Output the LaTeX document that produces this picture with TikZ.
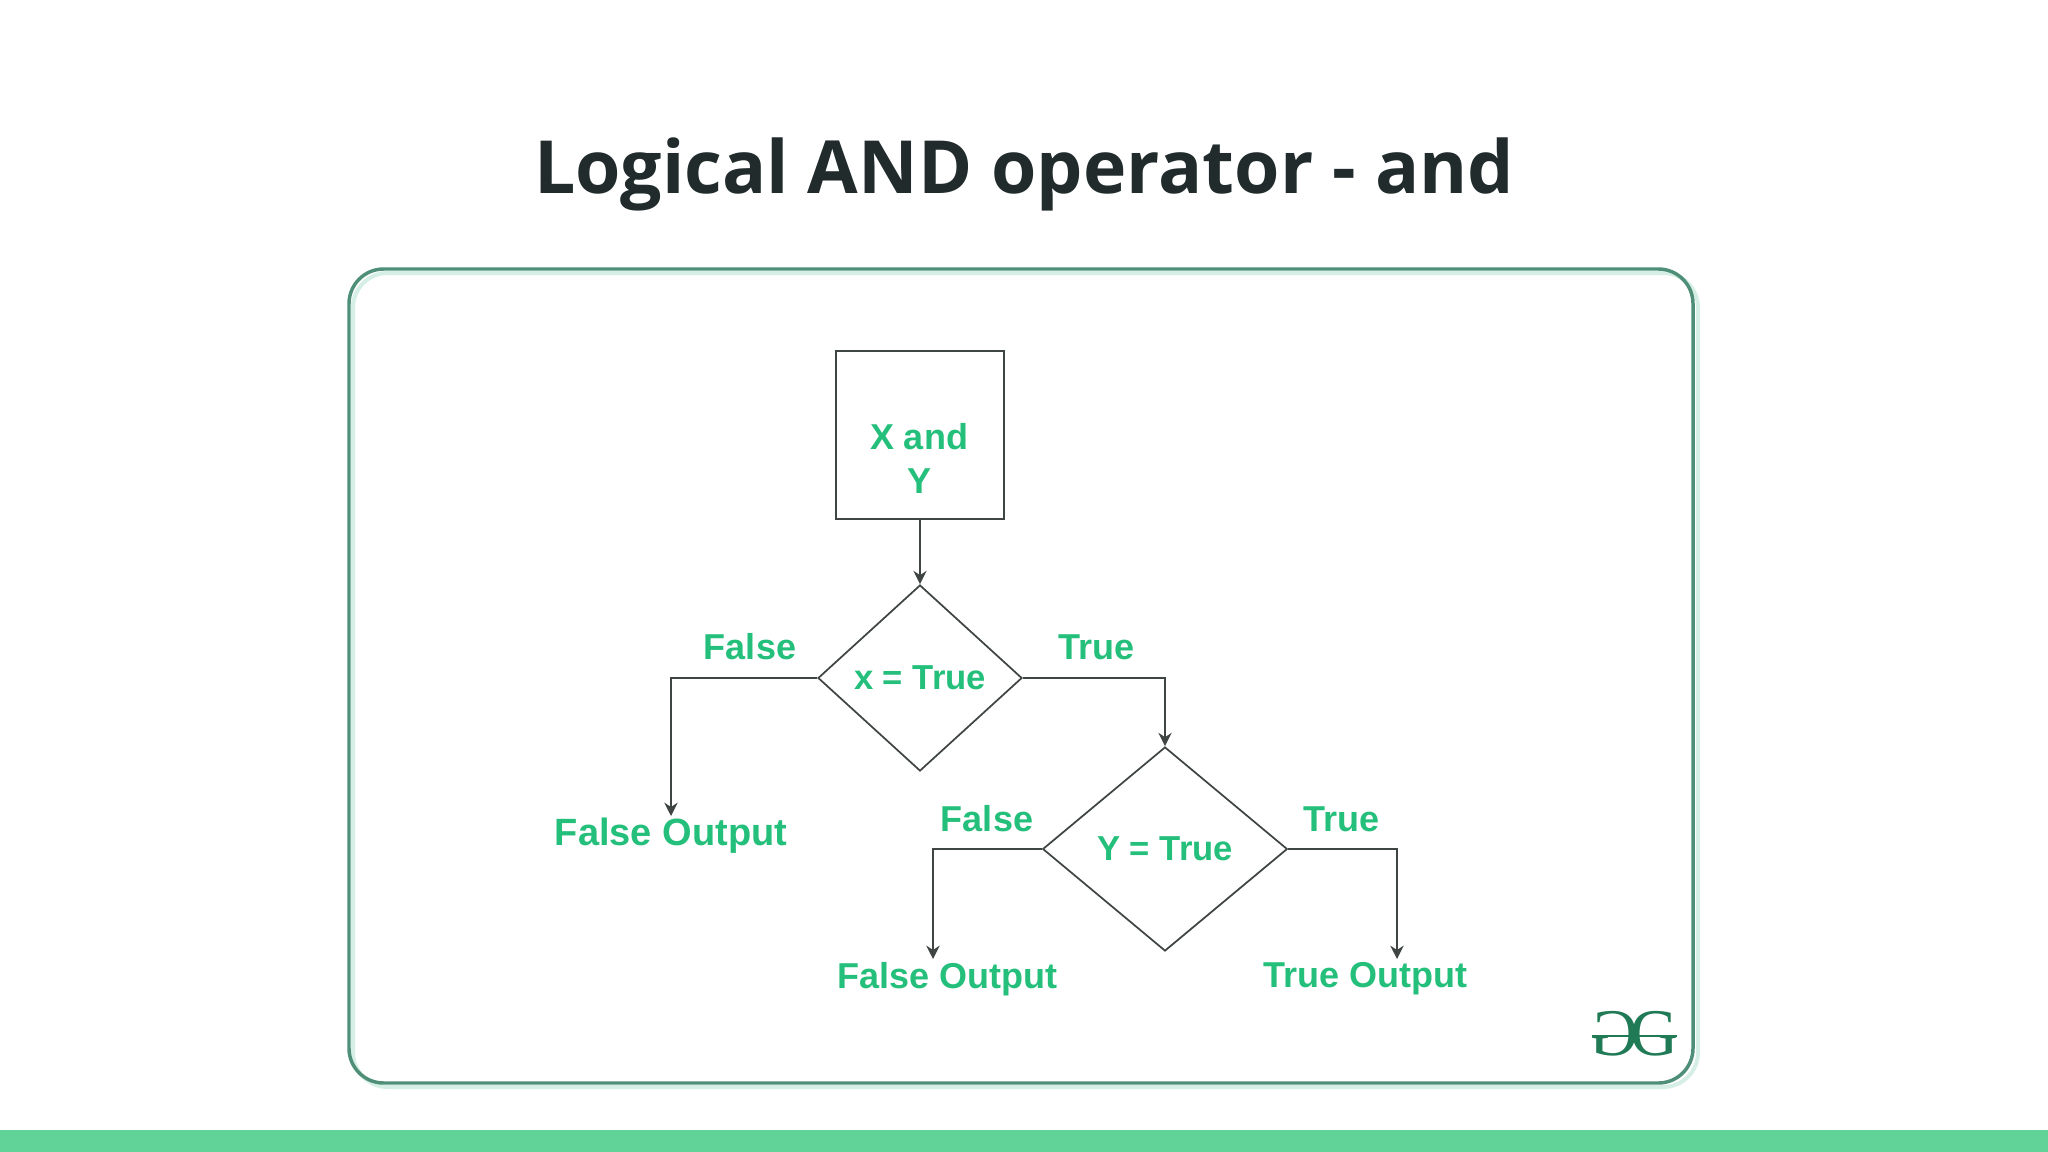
\documentclass[tikz,border=0pt]{standalone}
\usepackage{fontspec}
\setmainfont{Liberation Sans}
\newfontfamily\titlefont{Open Sans}
\newfontfamily\logofont{Liberation Serif}
\usetikzlibrary{shapes.geometric,arrows.meta}
\definecolor{flowgreen}{HTML}{25BF7C}
\definecolor{linegray}{HTML}{3F4543}
\definecolor{framegreen}{HTML}{4F8F78}
\definecolor{framesoft}{HTML}{D6EFE6}
\definecolor{bargreen}{HTML}{62D398}
\definecolor{titlecol}{HTML}{212B2B}
\definecolor{logogreen}{HTML}{1F7A55}
\tikzset{
  x=0.75pt,y=-0.75pt,
  lbl/.style={text=flowgreen,font=\fontsize{27}{33}\selectfont\bfseries,inner sep=0pt,align=center},
  outlbl/.style={lbl,font=\fontsize{28.5}{33}\selectfont\bfseries},
  dec/.style={draw=linegray,line width=1.3pt,diamond,inner sep=0pt,text=flowgreen,font=\fontsize{26}{33}\selectfont\bfseries},
  conn/.style={draw=linegray,line width=1.2pt,-{Stealth[length=10pt,width=10pt]}},
  logotxt/.style={text=logogreen,inner sep=0pt,font=\logofont\fontsize{50}{50}\selectfont}
}
\begin{document}
\begin{tikzpicture}
\useasboundingbox (0,0) rectangle (2048,1152);
\fill[white] (0,0) rectangle (2048,1152);
\fill[bargreen] (0,1130) rectangle (2048,1152);
\node[anchor=base,inner sep=0pt,text=titlecol,font=\titlefont\fontsize{55}{60}\selectfont\bfseries] (title) at (1024,194) {Logical AND operator - and};
\draw[framesoft,line width=3pt,rounded corners=26pt] (353,273) rectangle (1698,1087);
\draw[framegreen,line width=2.6pt,rounded corners=26pt] (349,269) rectangle (1693,1083);
\node[draw=linegray,line width=1.3pt,minimum width=126pt,minimum height=126pt,inner sep=0pt] (box) at (920,435) {};
\node[lbl] (boxtext) at (919,458) {X and\\Y};
\node[dec,minimum width=153pt,minimum height=139.5pt] (d1) at (920,678) {x = True};
\node[dec,minimum width=183.5pt,minimum height=153pt] (d2) at (1165,849) {Y = True};
\node[outlbl] (fo1) at (671,836) {False Output};
\node[lbl] (fo2) at (947,979) {False Output};
\node[lbl] (to) at (1365,979) {True Output};
\node[lbl] (f1) at (750,647) {False};
\node[lbl] (t1) at (1096,647) {True};
\node[lbl] (f2) at (987,819) {False};
\node[lbl] (t2) at (1341,819) {True};
\coordinate (e1) at (671,816);
\coordinate (e2) at (933,959);
\coordinate (e3) at (1397,959);
\draw[conn] (box.south) -- (d1.north);
\draw[conn] (d1.east) -| (d2.north);
\draw[conn] (d1.west) -| (e1);
\draw[conn] (d2.west) -| (e2);
\draw[conn] (d2.east) -| (e3);
\node[logotxt,anchor=center] (logoa) at (1614,1034) {\scalebox{-1}[1]{G}};
\node[logotxt,anchor=center] (logob) at (1655,1034) {G};
\draw[logogreen,line width=1.4pt] (1592,1036) -- (1677,1036);
\end{tikzpicture}
\end{document}
